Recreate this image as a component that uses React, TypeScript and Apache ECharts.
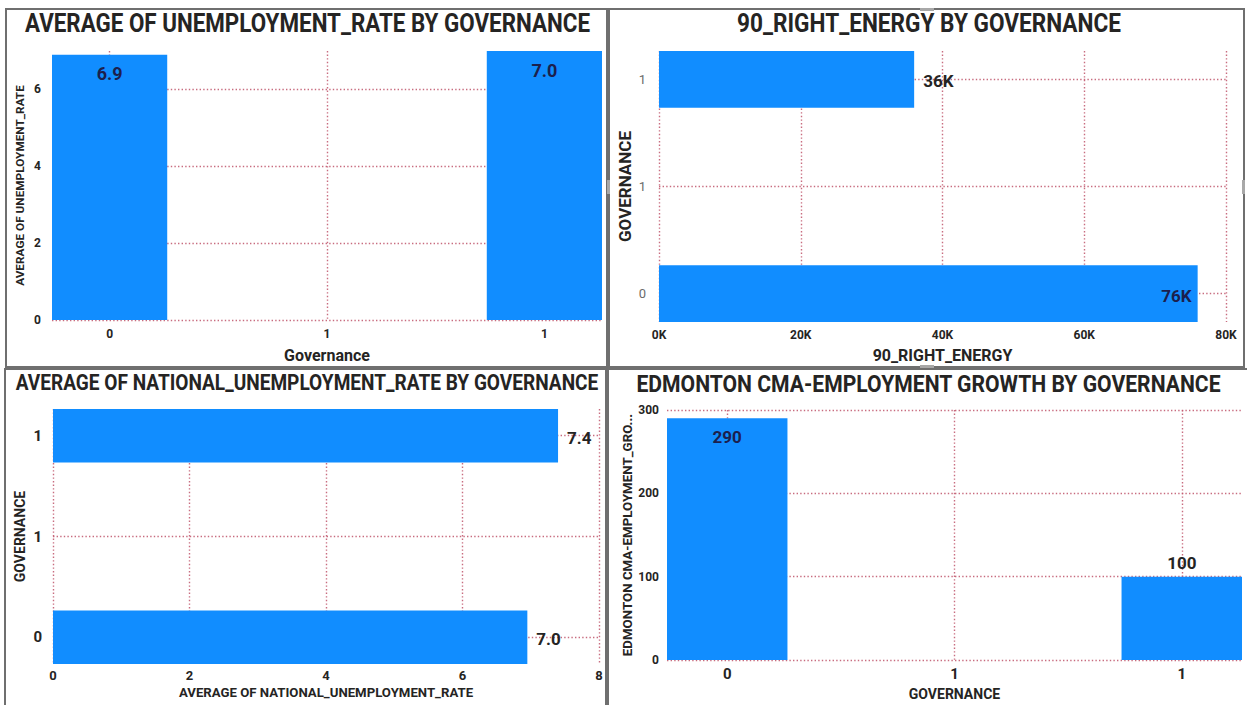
import React, { useEffect, useRef } from 'react';
import * as echarts from 'echarts';

// ---------- data ----------
const governance = [0, 1];
const governanceTickValues = [0, 0.5, 1];
const unemploymentRate = [6.9, 7.0];
const rightEnergy90 = [76000, 36000];
const nationalUnemploymentRate = [6.95, 7.4];
const edmontonEmploymentGrowth = [290, 100];
const unemploymentTicks = [0, 2, 4, 6];
const energyTicks = [0, 20000, 40000, 60000, 80000];
const nationalTicks = [0, 2, 4, 6, 8];
const growthTicks = [0, 100, 200, 300];

const titles = [
  'AVERAGE OF UNEMPLOYMENT_RATE BY GOVERNANCE',
  '90_RIGHT_ENERGY BY GOVERNANCE',
  'AVERAGE OF NATIONAL_UNEMPLOYMENT_RATE BY GOVERNANCE',
  'EDMONTON CMA-EMPLOYMENT GROWTH BY GOVERNANCE',
];

// ---------- style ----------
const FONT = "Roboto, 'Liberation Sans', sans-serif";
const BAR = '#118DFF';
const INK = '#252423';
const NAVY = '#1c1f4d';
const GRIDC = '#c25c71';
const PAD = 0.1325;
const BAR_FRAC = 0.265;

const grids = [
  { left: 52, top: 51, width: 550, height: 269 },
  { left: 659, top: 51, width: 567, height: 271 },
  { left: 53, top: 409, width: 546, height: 255 },
  { left: 667, top: 410, width: 575, height: 250 },
];

const dotted = { show: true, lineStyle: { color: GRIDC, type: [1.4, 2.2], width: 1.4, opacity: 0.9 } };
const govLabel = (v: number) => String(Math.round(v));

function govAxis(gridIndex: number, labelStyle: any) {
  return {
    type: 'value',
    gridIndex,
    min: -PAD,
    max: 1 + PAD,
    axisLine: { show: false, onZero: false },
    axisTick: { show: false, customValues: governanceTickValues },
    axisLabel: { customValues: governanceTickValues, formatter: govLabel, fontFamily: FONT, ...labelStyle },
    splitLine: dotted,
  };
}

function valAxis(gridIndex: number, min: number, max: number, ticks: number[], fmt: any, labelStyle: any) {
  return {
    type: 'value',
    gridIndex,
    min,
    max,
    axisLine: { show: false, onZero: false },
    axisTick: { show: false, customValues: ticks },
    axisLabel: { customValues: ticks, formatter: fmt, fontFamily: FONT, ...labelStyle },
    splitLine: dotted,
  };
}

const fmt1 = (v: number) => v.toFixed(1);
const fmtK = (v: number) => `${Math.round(v / 1000)}K`;
const fmt0 = (v: number) => String(Math.round(v));

function measure(text: string, font: string): number {
  const ctx = document.createElement('canvas').getContext('2d');
  if (!ctx) return 0;
  ctx.font = font;
  return ctx.measureText(text).width;
}

function hBarRender(fmt: (v: number) => string, insideFlags: boolean[]) {
  return (params: any, api: any) => {
    const pos = api.value(0) as number;
    const val = api.value(1) as number;
    const start = api.coord([0, pos]);
    const end = api.coord([val, pos]);
    const h = api.size([0, BAR_FRAC])[1];
    const inside = insideFlags[params.dataIndex];
    return {
      type: 'group',
      children: [
        {
          type: 'rect',
          shape: { x: start[0], y: start[1] - h / 2, width: end[0] - start[0], height: h },
          style: { fill: BAR },
        },
        {
          type: 'text',
          x: inside ? end[0] - 6 : end[0] + 9,
          y: end[1] + 2,
          style: {
            text: fmt(val),
            fill: inside ? NAVY : INK,
            font: `bold 17px ${FONT}`,
            align: inside ? 'right' : 'left',
            verticalAlign: 'middle',
          },
        },
      ],
    };
  };
}

function buildOption(): any {
  const barWidthA = (BAR_FRAC * grids[0].width) / (1 + 2 * PAD);
  const barWidthD = (BAR_FRAC * grids[3].width) / (1 + 2 * PAD);

  const boldLabel = { color: INK, fontWeight: 'bold', fontSize: 12 };
  const nameStyle = (size: number) => ({ fontFamily: FONT, fontWeight: 'bold', fontSize: size, color: INK });

  const xAxis = [
    {
      ...govAxis(0, { ...boldLabel, fontSize: 12, margin: 8 }),
      name: 'Governance',
      nameLocation: 'middle',
      nameGap: 27,
      nameTextStyle: nameStyle(16),
    },
    {
      ...valAxis(1, 0, 80000, energyTicks, fmtK, { ...boldLabel, fontSize: 12, margin: 7 }),
      name: '90_RIGHT_ENERGY',
      nameLocation: 'middle',
      nameGap: 25,
      nameTextStyle: nameStyle(16),
    },
    {
      ...valAxis(2, 0, 8, nationalTicks, fmt0, { ...boldLabel, fontSize: 13, margin: 5 }),
      name: 'AVERAGE OF NATIONAL_UNEMPLOYMENT_RATE',
      nameLocation: 'middle',
      nameGap: 22,
      nameTextStyle: nameStyle(13.2),
    },
    {
      ...govAxis(3, { ...boldLabel, fontSize: 15, margin: 6 }),
      name: 'GOVERNANCE',
      nameLocation: 'middle',
      nameGap: 27,
      nameTextStyle: nameStyle(14),
    },
  ];

  const yAxis = [
    {
      ...valAxis(0, 0, 7, unemploymentTicks, fmt0, { ...boldLabel, fontSize: 12, margin: 11 }),
      name: 'AVERAGE OF UNEMPLOYMENT_RATE',
      nameLocation: 'middle',
      nameGap: 26,
      nameTextStyle: nameStyle(11.8),
    },
    {
      ...govAxis(1, { color: '#6b6b6b', fontSize: 13, margin: 13 }),
      name: 'GOVERNANCE',
      nameLocation: 'middle',
      nameGap: 26,
      nameTextStyle: nameStyle(17),
    },
    {
      ...govAxis(2, { ...boldLabel, fontSize: 15, margin: 11 }),
      name: 'GOVERNANCE',
      nameLocation: 'middle',
      nameGap: 26,
      nameTextStyle: nameStyle(14),
    },
    {
      ...valAxis(3, 0, 300, growthTicks, fmt0, { ...boldLabel, fontSize: 12, margin: 8 }),
      name: 'EDMONTON CMA-EMPLOYMENT_GRO...',
      nameLocation: 'middle',
      nameGap: 33,
      nameTextStyle: nameStyle(13.3),
    },
  ];

  const vData = (vals: number[], insideFlags: boolean[]) =>
    governance.map((g, i) => ({
      value: [g, vals[i]],
      label: insideFlags[i]
        ? { position: 'insideTop', distance: 10, color: NAVY }
        : { position: 'top', distance: 5, color: INK },
    }));

  const series = [
    {
      type: 'bar',
      xAxisIndex: 0,
      yAxisIndex: 0,
      barWidth: barWidthA,
      itemStyle: { color: BAR },
      label: { show: true, formatter: (p: any) => fmt1(p.value[1]), fontFamily: FONT, fontWeight: 'bold', fontSize: 18 },
      data: vData(unemploymentRate, [true, true]),
    },
    {
      type: 'custom',
      xAxisIndex: 1,
      yAxisIndex: 1,
      encode: { x: 1, y: 0 },
      renderItem: hBarRender(fmtK, [true, false]),
      data: governance.map((g, i) => [g, rightEnergy90[i]]),
    },
    {
      type: 'custom',
      xAxisIndex: 2,
      yAxisIndex: 2,
      encode: { x: 1, y: 0 },
      renderItem: hBarRender(fmt1, [false, false]),
      data: governance.map((g, i) => [g, nationalUnemploymentRate[i]]),
    },
    {
      type: 'bar',
      xAxisIndex: 3,
      yAxisIndex: 3,
      barWidth: barWidthD,
      itemStyle: { color: BAR },
      label: { show: true, formatter: (p: any) => fmt0(p.value[1]), fontFamily: FONT, fontWeight: 'bold', fontSize: 17 },
      data: vData(edmontonEmploymentGrowth, [true, false]),
    },
  ];

  const panels = [
    { x: 6, y: 9, w: 601, h: 358 },
    { x: 609, y: 9, w: 635, h: 358 },
    { x: 5, y: 369, w: 601, h: 340 },
    { x: 608, y: 369, w: 645, h: 340 },
  ];
  const titleLayout = [
    { x: 307.5, y: 24, size: 25, width: 565 },
    { x: 929, y: 24, size: 25, width: 384 },
    { x: 307, y: 383, size: 22, width: 583 },
    { x: 928.5, y: 384, size: 23, width: 585 },
  ];
  // selection handles on the focused (top-right) visual
  const handles = [
    { x: 920, y: 8, w: 14, h: 3 },
    { x: 920, y: 365, w: 14, h: 3 },
    { x: 607, y: 180, w: 3, h: 14 },
    { x: 1242, y: 180, w: 3, h: 14 },
  ];

  const graphic = [
    ...panels.map((p) => ({
      type: 'rect',
      shape: { x: p.x, y: p.y, width: p.w, height: p.h },
      style: { fill: 'none', stroke: '#6f6f6f', lineWidth: 2 },
      z: 100,
    })),
    ...handles.map((h) => ({
      type: 'rect',
      shape: { x: h.x, y: h.y, width: h.w, height: h.h },
      style: { fill: '#a8a8a8' },
      z: 101,
    })),
    ...titles.map((t, i) => {
      const font = `bold ${titleLayout[i].size}px ${FONT}`;
      const w = measure(t, font);
      const sx = w > 0 ? titleLayout[i].width / w : 1;
      return {
        type: 'text',
        x: titleLayout[i].x,
        y: titleLayout[i].y,
        scaleX: sx,
        style: {
          text: t,
          font,
          fill: INK,
          align: 'center',
          verticalAlign: 'middle',
        },
        z: 100,
      };
    }),
  ];

  return {
    animation: false,
    backgroundColor: '#ffffff',
    textStyle: { fontFamily: FONT },
    grid: grids.map((g) => ({ ...g, containLabel: false })),
    xAxis,
    yAxis,
    series,
    graphic,
  };
}

export default function App() {
  const ref = useRef<HTMLDivElement>(null);
  useEffect(() => {
    if (!ref.current) return;
    const chart = echarts.init(ref.current, undefined, { renderer: 'svg' });
    chart.setOption(buildOption());
    return () => chart.dispose();
  }, []);
  return (
    <div
      ref={ref}
      style={{ position: 'fixed', left: 0, top: 0, width: 1247, height: 705, background: '#fff' }}
    />
  );
}
